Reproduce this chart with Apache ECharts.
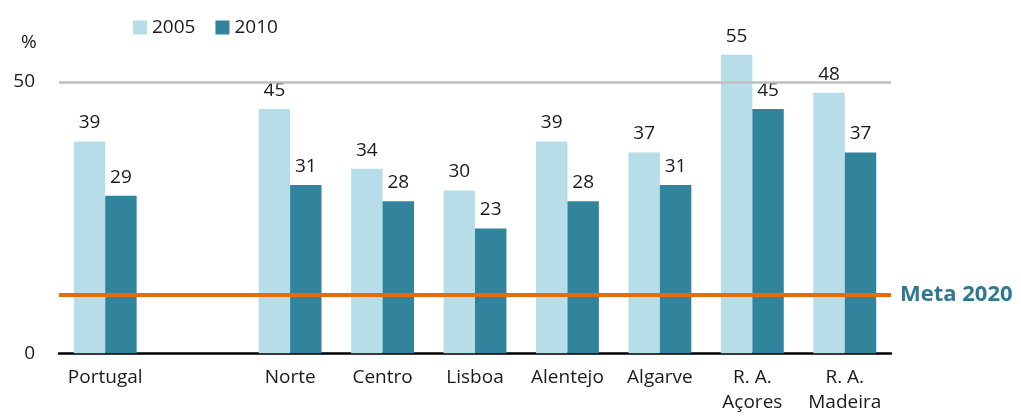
<!DOCTYPE html>
<html>
<head>
<meta charset="utf-8">
<script src="https://cdn.jsdelivr.net/npm/echarts@6/dist/echarts.min.js"></script>
<style>
  html, body { margin: 0; padding: 0; background: #fff; }
  #chart { width: 1021px; height: 419px; }
</style>
</head>
<body>
<div id="chart"></div>
<script>
  // regions, with an empty slot between Portugal and the NUTS II regions
  var regions = ['Portugal', '', 'Norte', 'Centro', 'Lisboa', 'Alentejo', 'Algarve', 'R. A.\nAçores', 'R. A.\nMadeira']
  var values2005 = [39, '-', 45, 34, 30, 39, 37, 55, 48]
  var values2010 = [29, '-', 31, 28, 23, 28, 31, 45, 37]
  var yTicks = [0, 50]
  var meta2020 = 10.7
  var gridValue = 50

  var font = '"Open Sans", Lato, sans-serif'
  var chart = echarts.init(document.getElementById('chart'))

  var barLabel = {
    show: true,
    position: 'top',
    distance: 9,
    fontSize: 19,
    color: '#1a1a1a',
    fontFamily: font
  }

  var option = {
    animation: false,
    textStyle: {fontFamily: font},
    legend: {
      left: 128,
      top: 13,
      itemWidth: 14,
      itemHeight: 14,
      itemGap: 20,
      icon: 'rect',
      data: ['2005', '2010'],
      textStyle: {fontSize: 19, color: '#1a1a1a', fontFamily: font}
    },
    graphic: [{
      type: 'text',
      left: 21,
      top: 33,
      style: {text: '%', fontSize: 19, fill: '#1a1a1a', fontFamily: font}
    }],
    grid: {left: 59, right: 130, top: 27.5, bottom: 65.7},
    xAxis: {
      type: 'category',
      data: regions,
      axisTick: {show: false},
      axisLine: {lineStyle: {color: '#000', width: 2.5}},
      axisLabel: {
        interval: 0,
        margin: 12,
        fontSize: 19,
        lineHeight: 25,
        color: '#1a1a1a',
        fontFamily: font
      }
    },
    yAxis: {
      type: 'value',
      min: 0,
      max: 60,
      interval: 10,
      splitLine: {show: false},
      axisLine: {show: false},
      axisTick: {show: false},
      axisLabel: {
        margin: 24,
        fontSize: 19,
        color: '#1a1a1a',
        fontFamily: font,
        formatter: function (v) { return yTicks.indexOf(v) >= 0 ? String(v) : '' }
      }
    },
    series: [
      {
        // grey 50 % gridline, behind the bars
        type: 'line',
        data: [],
        z: 1,
        markLine: {
          silent: true,
          symbol: 'none',
          label: {show: false},
          lineStyle: {color: '#bfbfbf', width: 2.5, type: 'solid'},
          data: [{yAxis: gridValue}]
        }
      },
      {
        name: '2005',
        type: 'bar',
        data: values2005,
        barWidth: '34%',
        barGap: '0%',
        itemStyle: {color: '#b7dde8'},
        label: barLabel
      },
      {
        name: '2010',
        type: 'bar',
        data: values2010,
        barWidth: '34%',
        itemStyle: {color: '#31849b'},
        label: barLabel,
        markLine: {
          silent: true,
          symbol: 'none',
          lineStyle: {color: '#e46c0a', width: 4, type: 'solid'},
          label: {
            show: true,
            position: 'end',
            distance: 9,
            formatter: 'Meta 2020',
            fontSize: 22,
            fontWeight: 'bold',
            color: '#2f7890',
            fontFamily: font
          },
          data: [{yAxis: meta2020}]
        }
      }
    ]
  }

  chart.setOption(option)
</script>
</body>
</html>
